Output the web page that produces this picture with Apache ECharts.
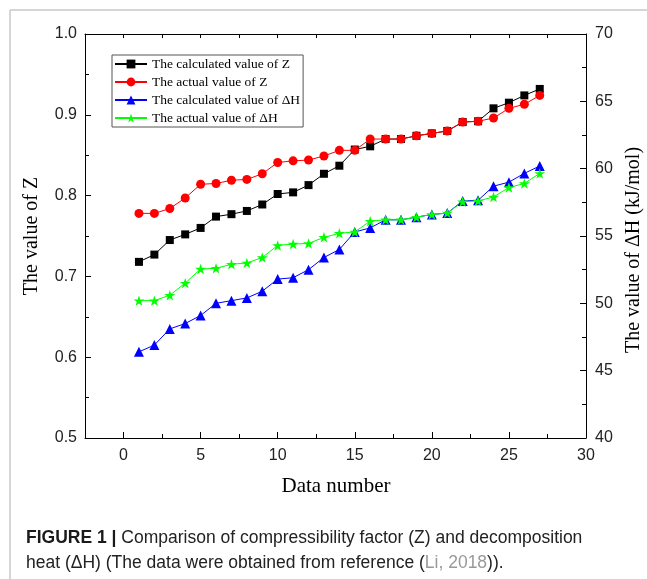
<!DOCTYPE html>
<html>
<head>
<meta charset="utf-8">
<script src="https://cdn.jsdelivr.net/npm/echarts@6/dist/echarts.min.js"></script>
<style>
  html, body { margin: 0; padding: 0; background: #fff; }
  #chart { width: 647px; height: 579px; }
</style>
</head>
<body>
<div id="chart"></div>
<script>
// data
const dataNumber = [1, 2, 3, 4, 5, 6, 7, 8, 9, 10, 11, 12, 13, 14, 15, 16, 17, 18, 19, 20, 21, 22, 23, 24, 25, 26, 27];
const calcZ = [0.718, 0.727, 0.745, 0.752, 0.760, 0.774, 0.777, 0.781, 0.789, 0.802, 0.804, 0.813, 0.827, 0.837,
  0.857, 0.861, 0.870, 0.870, 0.874, 0.877, 0.880, 0.891, 0.892, 0.908, 0.915, 0.924, 0.932];
const actualZ = [0.778, 0.778, 0.784, 0.797, 0.814, 0.815, 0.819, 0.820, 0.827, 0.841, 0.843, 0.844, 0.849, 0.856,
  0.856, 0.870, 0.870, 0.870, 0.874, 0.877, 0.880, 0.891, 0.892, 0.896, 0.908, 0.913, 0.924];
const calcH = [46.4, 46.9, 48.1, 48.5, 49.1, 50.0, 50.2, 50.4, 50.9, 51.8, 51.9, 52.5, 53.4, 54.0,
  55.3, 55.6, 56.2, 56.2, 56.4, 56.6, 56.7, 57.6, 57.65, 58.7, 59.0, 59.65, 60.2];
const actualH = [50.2, 50.2, 50.6, 51.5, 52.55, 52.6, 52.9, 53.0, 53.4, 54.3, 54.4, 54.45, 54.9, 55.2,
  55.3, 56.1, 56.2, 56.2, 56.4, 56.6, 56.7, 57.55, 57.6, 57.9, 58.6, 58.9, 59.65];
const xMajorTicks = [0, 5, 10, 15, 20, 25, 30];

const names = [
  "The calculated value of Z",
  "The actual value of Z",
  "The calculated value of \u0394H",
  "The actual value of \u0394H",
];

const starPath = "path://M100,0L122.45,69.1L195.1,69.1L136.3,111.8L158.8,180.9L100,138.2L41.2,180.9L63.7,111.8L4.9,69.1L77.55,69.1Z";
const sansFont = "Liberation Sans, Arial, sans-serif";
const serifFont = "Liberation Serif, Times New Roman, serif";

function pairs(ys) {
  return dataNumber.map((x, i) => [x, ys[i]]);
}

function lineSeries(name, ys, color, symbol, size, yIdx) {
  return {
    name: name,
    type: "line",
    xAxisIndex: 0,
    yAxisIndex: yIdx,
    data: pairs(ys),
    symbol: symbol,
    symbolSize: size,
    symbolKeepAspect: true,
    showAllSymbol: true,
    lineStyle: { color: color, width: 1 },
    itemStyle: { color: color },
    emphasis: { disabled: true },
  };
}

const chart = echarts.init(document.getElementById("chart"));

const option = {
  animation: false,
  backgroundColor: "#fff",
  grid: {
    left: 85,
    right: 61,
    top: 34,
    bottom: 141,
    outerBoundsMode: "none",
  },
  legend: {
    orient: "vertical",
    left: 112,
    top: 55,
    itemWidth: 32,
    itemHeight: 11,
    itemGap: 4,
    padding: [2, 3, 2, 2],
    borderColor: "#555",
    borderWidth: 1,
    textStyle: { fontFamily: serifFont, fontSize: 13.5, color: "#000" },
    data: names,
  },
  xAxis: [
    {
      type: "value",
      min: -2.5,
      max: 30,
      position: "bottom",
      axisLine: { show: true, onZero: false, lineStyle: { color: "#000", width: 1 } },
      axisTick: { show: true, inside: true, length: 6, customValues: xMajorTicks, lineStyle: { color: "#000" } },
      axisLabel: { customValues: xMajorTicks, fontFamily: sansFont, fontSize: 16, color: "#222", margin: 10 },
      splitLine: { show: false },
    },
    {
      type: "value",
      min: -2.5,
      max: 30,
      interval: 2.5,
      position: "bottom",
      axisLine: { show: false },
      axisTick: { show: true, inside: true, length: 4, lineStyle: { color: "#000" } },
      axisLabel: { show: false },
      splitLine: { show: false },
    },
    {
      type: "value",
      min: -2.5,
      max: 30,
      interval: 2.5,
      position: "top",
      axisLine: { show: true, onZero: false, lineStyle: { color: "#000", width: 1 } },
      axisTick: { show: true, inside: true, length: 4, lineStyle: { color: "#000" } },
      axisLabel: { show: false },
      splitLine: { show: false },
    },
  ],
  yAxis: [
    {
      type: "value",
      min: 0.5,
      max: 1.0,
      interval: 0.1,
      position: "left",
      axisLine: { show: true, onZero: false, lineStyle: { color: "#000", width: 1 } },
      axisTick: { show: true, inside: true, length: 6, lineStyle: { color: "#000" } },
      minorTick: { show: true, splitNumber: 2, length: 4, lineStyle: { color: "#000" } },
      axisLabel: {
        formatter: (v) => v.toFixed(1),
        fontFamily: sansFont,
        fontSize: 16,
        color: "#222",
        margin: 8,
      },
      splitLine: { show: false },
    },
    {
      type: "value",
      min: 40,
      max: 70,
      interval: 5,
      position: "right",
      axisLine: { show: true, onZero: false, lineStyle: { color: "#000", width: 1 } },
      axisTick: { show: true, inside: true, length: 6, lineStyle: { color: "#000" } },
      minorTick: { show: true, splitNumber: 2, length: 4, lineStyle: { color: "#000" } },
      axisLabel: { fontFamily: sansFont, fontSize: 16, color: "#222", margin: 9 },
      splitLine: { show: false },
    },
  ],
  graphic: [
    // grey page frame
    { type: "line", silent: true, shape: { x1: 10, y1: 10, x2: 647, y2: 10 }, style: { stroke: "#c8c8c8", lineWidth: 1.5 } },
    { type: "line", silent: true, shape: { x1: 10, y1: 10, x2: 10, y2: 579 }, style: { stroke: "#c8c8c8", lineWidth: 1.5 } },
    // axis titles
    {
      type: "text", x: 32, y: 236, rotation: Math.PI / 2,
      style: { text: "The value of Z", font: "20px " + serifFont, fill: "#000", align: "center", verticalAlign: "middle" },
    },
    {
      type: "text", x: 336, y: 486,
      style: { text: "Data number", font: "21px " + serifFont, fill: "#000", align: "center", verticalAlign: "middle" },
    },
    {
      type: "text", x: 634, y: 250, rotation: Math.PI / 2,
      style: { text: "The value of \u0394H (kJ/mol)", font: "20px " + serifFont, fill: "#000", align: "center", verticalAlign: "middle" },
    },
    // caption
    {
      type: "text", x: 26, y: 538,
      style: {
        text: "{b|FIGURE 1 |}{n| Comparison of compressibility factor (Z) and decomposition}",
        verticalAlign: "middle",
        rich: {
          b: { fontFamily: sansFont, fontSize: 17.5, fontWeight: "bold", fill: "#1a1a1a" },
          n: { fontFamily: sansFont, fontSize: 17.5, fill: "#222" },
        },
      },
    },
    {
      type: "text", x: 26, y: 563,
      style: {
        text: "{n|heat (\u0394H) (The data were obtained from reference (}{g|Li, 2018}{n|)).}",
        verticalAlign: "middle",
        rich: {
          n: { fontFamily: sansFont, fontSize: 17.5, fill: "#222" },
          g: { fontFamily: sansFont, fontSize: 17.5, fill: "#999" },
        },
      },
    },
  ],
  series: [
    lineSeries(names[0], calcZ, "#000000", "rect", 8, 0),
    lineSeries(names[1], actualZ, "#ff0000", "circle", 9, 0),
    lineSeries(names[2], calcH, "#0000ff", "triangle", 10, 1),
    lineSeries(names[3], actualH, "#00ff00", starPath, 11, 1),
  ],
};

chart.setOption(option);
</script>
</body>
</html>
